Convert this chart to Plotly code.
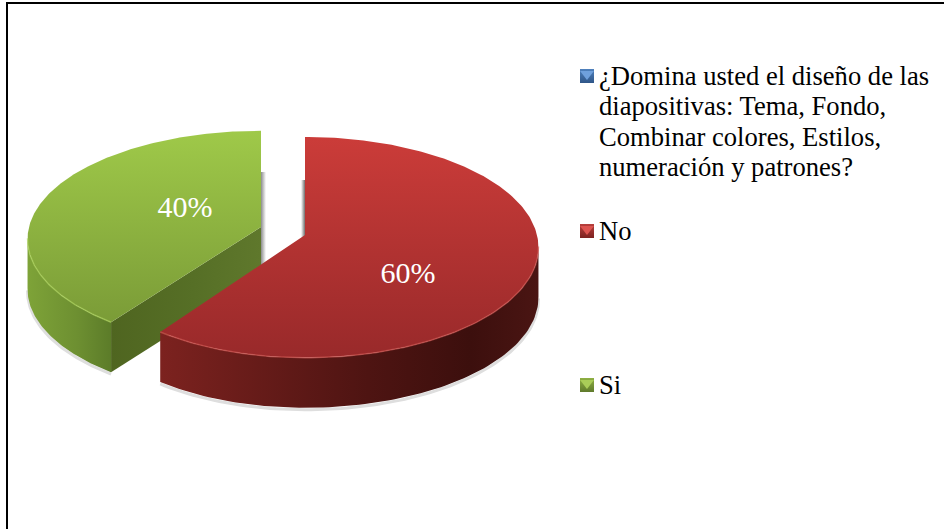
import math
import plotly.graph_objects as go

# ---- data ----
legend_labels = [
    ["¿Domina usted el diseño de las", "diapositivas: Tema, Fondo,", "Combinar colores, Estilos,", "numeración y patrones?"],
    ["No"],
    ["Si"],
]
slice_names = ["Domina", "No", "Si"]
values = [0, 60, 40]

# ---- styles / layout constants (pixel-based axes) ----
W, H = 944, 529
FONT = "Liberation Serif"
RX, PERSP, DEPTH = 232, 0.112, 50
ry = {"No": 109, "Si": 107}
rx_left = {"No": 224, "Si": 232}
centres = {"No": (305, 235), "Si": (261, 227)}
label_pos = {"No": (408, 275), "Si": (185, 209)}
swatch_y = [76, 231, 385]
swatch_x = 587
text_x = 597
line_step = 30.3
swatch_colors = [("#4f81bd", "#2f5688", "#6fa0dc"), ("#b8403d", "#7d2220", "#dd5450"), ("#8fb043", "#5f7a2c", "#a9cc58")]
top_grad = {"No": ("#cb3c39", "#98292a"), "Si": ("#9fc949", "#7a9b37")}
top_span = {"No": (137, 360), "Si": (131, 325)}
rim = {"No": "rgba(210,89,84,0.6)", "Si": "rgba(174,211,92,0.6)"}
wall_grad = {
    "No": [[0, "#7c221f"], [0.55, "#4e1412"], [0.82, "#3c0f0d"], [1, "#4a1513"]],
    "Si": [[0, "#7ea338"], [0.6, "#6d8f31"], [1, "#5c7c29"]],
}
face_grad = {"Si": [[0, "#4f6520"], [0.55, "#566f26"], [1, "#5f782c"]]}
shadow_grad = {
    "Si": [[0, "#8c8c8c"], [1, "#ffffff"]],
    "No": [[0, "#ffffff"], [1, "#6e6e6e"]],
}


def pt(key, deg, dz=0):
    """Project a rim point at a clockwise angle from 12 o'clock."""
    c = centres[key]
    t = math.radians(deg)
    u, v = math.sin(t), math.cos(t)
    s = 1 / (1 + PERSP * v)
    rx = rx_left[key] if u < 0 else RX
    return c[0] + rx * u * s, c[1] - ry[key] * v * s + dz


def arc(key, a, b, dz=0, n=90):
    return [pt(key, a + (b - a) * i / n, dz) for i in range(n + 1)]


def poly(fig, pts, grad=None, color=None, name=None, closed=True):
    xs = [p[0] for p in pts]
    ys = [p[1] for p in pts]
    kw = dict(x=xs + xs[:1] if closed else xs, y=ys + ys[:1] if closed else ys,
              mode="lines", showlegend=False, hoverinfo="skip", name=name)
    if closed:
        kw["fill"] = "toself"
        kw["line"] = dict(width=0)
        if grad:
            kw["fillgradient"] = grad
        else:
            kw["fillcolor"] = color
    else:
        kw["line"] = dict(color=color[0], width=color[1])
    fig.add_trace(go.Scatter(**kw))


# slice angles from the values
total = sum(values)
angles = {}
acc = 0
for name, v in zip(slice_names, values):
    angles[name] = (acc * 360 / total, (acc + v) * 360 / total)
    acc += v

fig = go.Figure()

for key in ["Si", "No"]:  # back slice first
    c = centres[key]
    a, b = angles[key]
    # visible outer wall: the part of the rim facing the viewer
    wa, wb = (max(a, 96), min(b, 264))
    top_arc = arc(key, wa, wb)
    bot_arc = arc(key, wa, wb, DEPTH)

    # soft shadow
    poly(fig, arc(key, wa, wb, DEPTH + 2), color=("#dedede", 3), closed=False)
    if key == "Si":
        sx0, sx1 = c[0], c[0] + 5
    else:
        sx0, sx1 = c[0] - 4, c[0]
    poly(fig, [(sx0, c[1] - 55), (sx1, c[1] - 55), (sx1, c[1] + DEPTH - 10), (sx0, c[1] + DEPTH - 10)],
         grad=dict(type="horizontal", colorscale=shadow_grad[key]))

    # cut face towards the viewer (start angle for Si; the red one is hidden)
    if key in face_grad:
        e = pt(key, a)
        poly(fig, [c, e, (e[0], e[1] + DEPTH), (c[0], c[1] + DEPTH)],
             grad=dict(type="horizontal", colorscale=face_grad[key]))

    # outer wall
    poly(fig, top_arc + bot_arc[::-1], grad=dict(type="horizontal", colorscale=wall_grad[key]))

    # top surface, fills from the value's angle span
    y_top, y_bot = top_span[key]
    poly(fig, [c] + arc(key, a, b, n=240),
         grad=dict(type="vertical", start=y_top, stop=y_bot,
                   colorscale=[[0, top_grad[key][0]], [1, top_grad[key][1]]]),
         name=key)

    # light rim
    poly(fig, arc(key, wa, wb), color=(rim[key], 1.5), closed=False)

# data labels
for name, v in zip(slice_names, values):
    if name in label_pos:
        fig.add_trace(go.Scatter(
            x=[label_pos[name][0]], y=[label_pos[name][1]], mode="text",
            text=[f"{v}%"], textposition="middle center",
            textfont=dict(family=FONT, size=30, color="white"),
            showlegend=False, hoverinfo="skip",
        ))

# legend keys: bevelled squares
for y, (c1, c2, c3) in zip(swatch_y, swatch_colors):
    fig.add_trace(go.Scatter(
        x=[swatch_x], y=[y], mode="markers", showlegend=False, hoverinfo="skip",
        marker=dict(symbol="square", size=14, color=c1, line=dict(width=0),
                    gradient=dict(type="vertical", color=c2)),
    ))
    fig.add_trace(go.Scatter(
        x=[swatch_x], y=[y - 2], mode="markers", showlegend=False, hoverinfo="skip",
        marker=dict(symbol="triangle-down", size=12, color=c3, line=dict(width=0)),
    ))

annotations = []
for y, lines in zip(swatch_y, legend_labels):
    for i, line in enumerate(lines):
        annotations.append(dict(
            x=text_x, y=y + i * line_step, xref="x", yref="y", text=line, showarrow=False,
            xanchor="left", yanchor="middle", align="left",
            font=dict(family=FONT, size=26.6, color="black"),
        ))

frame = [
    dict(type="line", x0=7, x1=7, y0=2, y1=H, xref="x", yref="y", line=dict(color="black", width=2)),
    dict(type="line", x0=6, x1=W, y0=3, y1=3, xref="x", yref="y", line=dict(color="black", width=2)),
]

fig.update_layout(
    width=W, height=H, margin=dict(l=0, r=0, t=0, b=0),
    paper_bgcolor="white", plot_bgcolor="white", showlegend=False,
    xaxis=dict(range=[0, W], visible=False, fixedrange=True),
    yaxis=dict(range=[H, 0], visible=False, fixedrange=True),
    annotations=annotations, shapes=frame,
)

fig.write_html("out.html", config=dict(displayModeBar=False),
               post_script="document.body.style.margin='0';document.body.style.overflow='hidden';")
